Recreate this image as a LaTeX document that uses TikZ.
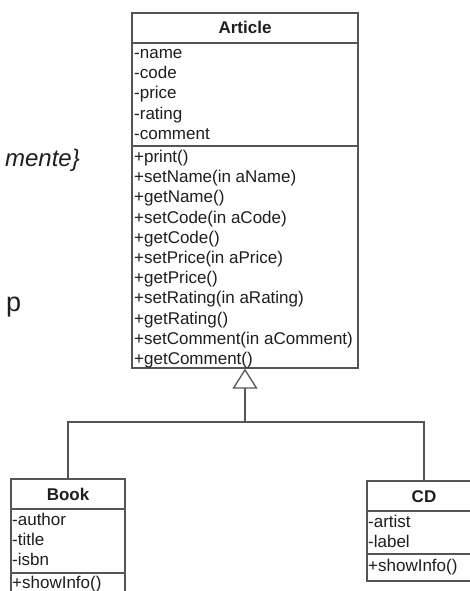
\documentclass[tikz,border=0pt]{standalone}
\usepackage{fontspec}
\setmainfont{Liberation Sans}
\usetikzlibrary{arrows.meta}
\definecolor{linegray}{HTML}{555555}
\definecolor{txt}{HTML}{1E1E1E}
\begin{document}
\begin{tikzpicture}[x=1pt,y=-1pt,
  compart/.style={draw=linegray, line width=1.3pt, rectangle, inner sep=0pt, minimum width=#1},
  lbl/.style={anchor=base west, inner sep=0pt, text=txt, font=\fontsize{17}{20}\selectfont},
  ttl/.style={anchor=base, inner sep=0pt, text=txt, font=\fontsize{17}{20}\selectfont\bfseries},
  conn/.style={draw=linegray, line width=1.3pt},
  bigtxt/.style={inner sep=0pt, text=txt}]
\useasboundingbox (0,0) rectangle (470,591);
\fill[white] (0,0) rectangle (470,591);

% stray text at left
\node[bigtxt, anchor=base east, font=\fontsize{24}{28}\selectfont\itshape] (frag1) at (80,166) {mente\}};
\node[bigtxt, anchor=base west, font=\fontsize{27}{30}\selectfont] (frag2) at (6,311) {p};

% Article
\node[compart=226pt, minimum height=30pt] (artT) at (245,28) {};
\node[compart=226pt, minimum height=103pt] (artA) at (245,94.5) {};
\node[compart=226pt, minimum height=222pt] (artM) at (245,257) {};
\node[ttl] (artName) at (245,34) {Article};
\foreach \t [count=\i from 0] in {{-name},{-code},{-price},{-rating},{-comment}}
  \node[lbl] (aa\i) at ({134},{58.5+20.2*\i}) {\t};
\foreach \t [count=\i from 0] in {{+print()},{+setName(in aName)},{+getName()},{+setCode(in aCode)},{+getCode()},{+setPrice(in aPrice)},{+getPrice()},{+setRating(in aRating)},{+getRating()},{+setComment(in aComment)},{+getComment()}}
  \node[lbl] (am\i) at ({134},{162.5+20.2*\i}) {\t};

% Book
\node[compart=114pt, minimum height=30pt] (bookT) at (68,494) {};
\node[compart=114pt, minimum height=64pt] (bookA) at (68,541) {};
\node[compart=114pt, minimum height=30pt] (bookM) at (68,588) {};
\node[ttl] (bookName) at (68,500) {Book};
\foreach \t [count=\i from 0] in {{-author},{-title},{-isbn}}
  \node[lbl] (ba\i) at ({12},{525.5+20*\i}) {\t};
\node[lbl] (bm0) at (12,588.5) {+showInfo()};

% CD
\node[compart=114pt, minimum height=30pt] (cdT) at (424,496) {};
\node[compart=114pt, minimum height=43pt] (cdA) at (424,532.5) {};
\node[compart=114pt, minimum height=27pt] (cdM) at (424,567.5) {};
\node[ttl] (cdName) at (424,502) {CD};
\foreach \t [count=\i from 0] in {{-artist},{-label}}
  \node[lbl] (ca\i) at ({368},{527.5+20*\i}) {\t};
\node[lbl] (cm0) at (368,571) {+showInfo()};

% generalization
\coordinate (j) at (245,422);
\draw[conn, -{Triangle[open, length=20pt, width=25pt, line width=1.3pt]}] (j) -- (artM.south);
\draw[conn] (j) -| (bookT.north);
\draw[conn] (j) -| (cdT.north);
\end{tikzpicture}
\end{document}
